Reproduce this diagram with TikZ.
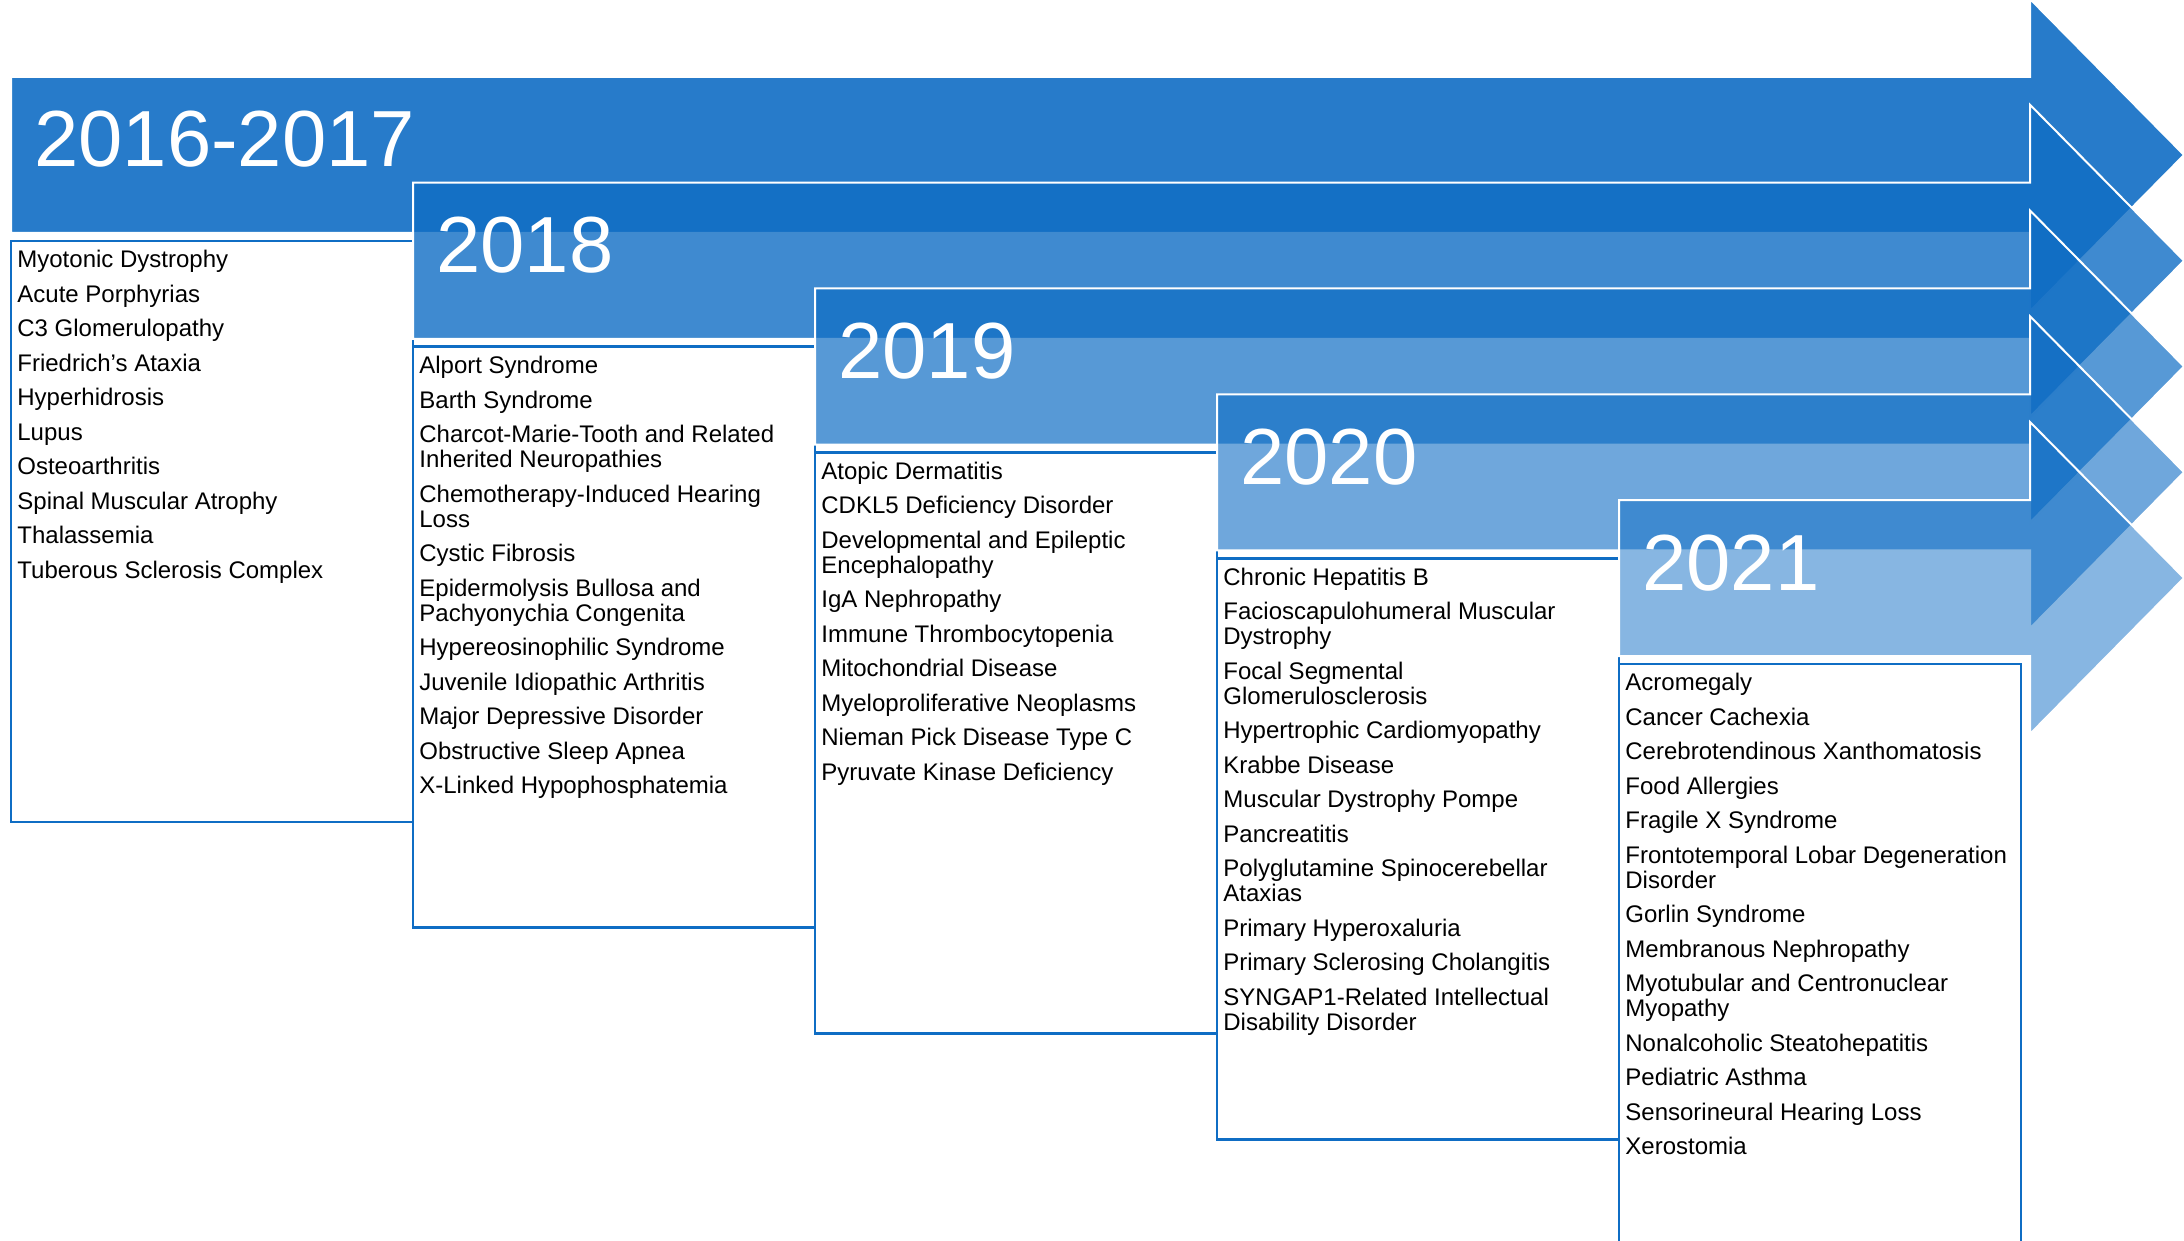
\documentclass[tikz,border=0pt]{standalone}
\usepackage{fontspec}
\setmainfont{Liberation Sans}
\definecolor{timeblue}{RGB}{15,109,196}
\newcommand{\nx}{\\[4.75pt]}
\newcommand{\topstrut}{\rule{0pt}{9pt}}
\begin{document}
\begin{tikzpicture}[x=0.5pt,y=-0.5pt,
  listframe/.style={draw=timeblue,line width=1.4pt},
  bandarrow/.style={draw=white,line width=1pt,fill=timeblue,line join=miter},
  yearlabel/.style={anchor=base west,inner sep=0,text=white,font=\fontsize{39.8}{40}\selectfont},
  listtext/.style={anchor=north west,inner sep=0,align=left,font=\fontsize{12}{12.5}\selectfont}]
\useasboundingbox (0,0) rectangle (2184,1241);
\clip (0,0) rectangle (2184,1241);

% frames of the five lists
\foreach \i in {0,...,4}{
  \pgfmathsetmacro\L{11+402*\i}
  \pgfmathsetmacro\T{77+105.75*\i}
  \draw[listframe] (\L,\T+164) rectangle (\L+402,\T+745);
}

% stacked translucent arrows, later years on top
\foreach \i in {0,...,4}{
  \pgfmathsetmacro\L{11+402*\i}
  \pgfmathsetmacro\T{77+105.75*\i}
  \pgfmathsetmacro\C{\T+78}
  \pgfmathsetmacro\op{0.9-0.1*\i}
  \draw[bandarrow,fill opacity=\op]
    (\L,\T) -- (2030,\T) -- (2030,\C-156) -- (2184,\C) -- (2030,\C+156)
    -- (2030,\T+156) -- (\L,\T+156) -- cycle;
}

% year labels
\node[yearlabel] (y2016) at (34,167) {2016-2017};
\node[yearlabel] (y2018) at (436,272.75) {2018};
\node[yearlabel] (y2019) at (838,378.5) {2019};
\node[yearlabel] (y2020) at (1240,484.25) {2020};
\node[yearlabel] (y2021) at (1642,590) {2021};

% lists
\node[listtext] (l2016) at (17,249.5) {\topstrut Myotonic Dystrophy\nx
Acute Porphyrias\nx
C3 Glomerulopathy\nx
Friedrich’s Ataxia\nx
Hyperhidrosis\nx
Lupus\nx
Osteoarthritis\nx
Spinal Muscular Atrophy\nx
Thalassemia\nx
Tuberous Sclerosis Complex};

\node[listtext] (l2018) at (419,355.25) {\topstrut Alport Syndrome\nx
Barth Syndrome\nx
Charcot-Marie-Tooth and Related\\
Inherited Neuropathies\nx
Chemotherapy-Induced Hearing\\
Loss\nx
Cystic Fibrosis\nx
Epidermolysis Bullosa and\\
Pachyonychia Congenita\nx
Hypereosinophilic Syndrome\nx
Juvenile Idiopathic Arthritis\nx
Major Depressive Disorder\nx
Obstructive Sleep Apnea\nx
X-Linked Hypophosphatemia};

\node[listtext] (l2019) at (821,461) {\topstrut Atopic Dermatitis\nx
CDKL5 Deficiency Disorder\nx
Developmental and Epileptic\\
Encephalopathy\nx
IgA Nephropathy\nx
Immune Thrombocytopenia\nx
Mitochondrial Disease\nx
Myeloproliferative Neoplasms\nx
Nieman Pick Disease Type C\nx
Pyruvate Kinase Deficiency};

\node[listtext] (l2020) at (1223,566.75) {\topstrut Chronic Hepatitis B\nx
Facioscapulohumeral Muscular\\
Dystrophy\nx
Focal Segmental\\
Glomerulosclerosis\nx
Hypertrophic Cardiomyopathy\nx
Krabbe Disease\nx
Muscular Dystrophy Pompe\nx
Pancreatitis\nx
Polyglutamine Spinocerebellar\\
Ataxias\nx
Primary Hyperoxaluria\nx
Primary Sclerosing Cholangitis\nx
SYNGAP1-Related Intellectual\\
Disability Disorder};

\node[listtext] (l2021) at (1625,672.5) {\topstrut Acromegaly\nx
Cancer Cachexia\nx
Cerebrotendinous Xanthomatosis\nx
Food Allergies\nx
Fragile X Syndrome\nx
Frontotemporal Lobar Degeneration\\
Disorder\nx
Gorlin Syndrome\nx
Membranous Nephropathy\nx
Myotubular and Centronuclear\\
Myopathy\nx
Nonalcoholic Steatohepatitis\nx
Pediatric Asthma\nx
Sensorineural Hearing Loss\nx
Xerostomia};
\end{tikzpicture}
\end{document}
